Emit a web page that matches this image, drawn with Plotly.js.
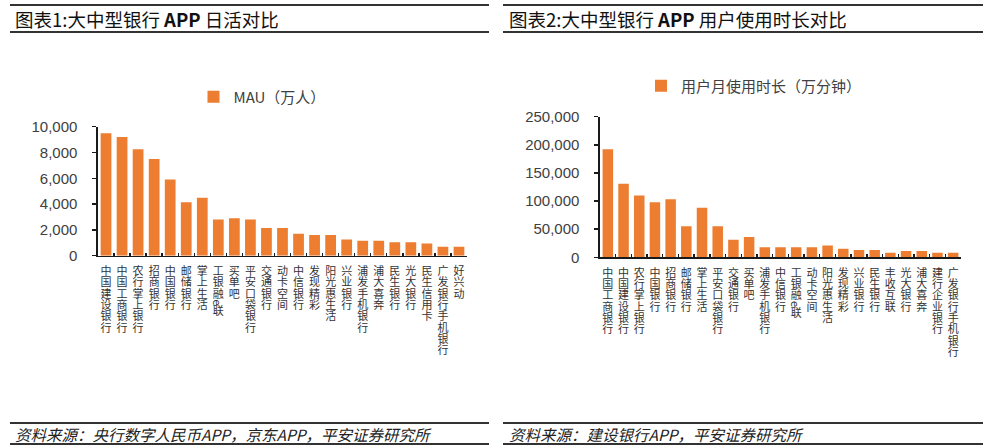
<!DOCTYPE html>
<html>
<head>
<meta charset="utf-8">
<script src="https://cdn.plot.ly/plotly-3.0.1.min.js"></script>
<style>
html,body{margin:0;padding:0;background:#fff;}
#chart{width:1000px;height:447px;}
</style>
</head>
<body>
<div id="chart"></div>
<script>
// ---------- data ----------
const mauCategories = ['中国建设银行','中国工商银行','农行掌上银行','招商银行','中国银行','邮储银行','掌上生活','工银融e联','买单吧','平安口袋银行','交通银行','动卡空间','中信银行','发现精彩','阳光惠生活','兴业银行','浦发手机银行','浦大喜奔','民生银行','光大银行','民生信用卡','广发银行手机银行','好兴动'];
const mauValues = [9500, 9200, 8250, 7500, 5900, 4150, 4500, 2800, 2900, 2800, 2150, 2150, 1700, 1600, 1600, 1250, 1150, 1150, 1050, 1050, 950, 700, 700];

const timeCategories = ['中国工商银行','中国建设银行','农行掌上银行','中国银行','招商银行','邮储银行','掌上生活','平安口袋银行','交通银行','买单吧','浦发手机银行','中信银行','工银融e联','动卡空间','阳光惠生活','发现精彩','兴业银行','民生银行','丰收互联','光大银行','浦大喜奔','建行企业银行','广发银行手机银行'];
const timeValues = [192000, 131000, 110000, 98000, 103000, 55000, 88000, 55000, 31000, 36000, 18000, 18000, 18000, 18000, 21000, 15000, 13000, 13000, 8000, 11000, 11000, 8000, 8000];

const mauSeriesName = 'MAU（万人）';
const timeSeriesName = '用户月使用时长（万分钟）';
const leftTitle = '图表1:大中型银行 <b>APP</b> 日活对比';
const rightTitle = '图表2:大中型银行 <b>APP</b> 用户使用时长对比';
const leftSource = '资料来源：央行数字人民币APP，京东APP，平安证券研究所';
const rightSource = '资料来源：建设银行APP，平安证券研究所';

// ---------- helpers ----------
const ORANGE = '#ED7D31';
const CJK = '"Noto Sans CJK SC", "Noto Sans", sans-serif';
const NUM = '"Liberation Sans", Arial, sans-serif';
const LABEL_FS = 11;

const traces = [
  {type:'bar', x: mauCategories, y: mauValues, name: mauSeriesName,
   marker:{color: ORANGE}, xaxis:'x', yaxis:'y', legend:'legend', hoverinfo:'x+y'},
  {type:'bar', x: timeCategories, y: timeValues, name: timeSeriesName,
   marker:{color: ORANGE}, xaxis:'x2', yaxis:'y2', legend:'legend2', hoverinfo:'x+y'}
];

const yBase = {
  showgrid:false, zeroline:false, showline:true, linecolor:'#1a1a1a', linewidth:1.6,
  ticks:'outside', ticklen:4, tickwidth:1.4, tickcolor:'#1a1a1a',
  tickfont:{family:NUM, size:15, color:'#404040'}, tickformat:',', ticklabelstandoff:12,
  fixedrange:true
};
const xBase = {
  type:'category', showgrid:false, zeroline:false, showline:true, linecolor:'#1a1a1a', linewidth:1.6,
  ticks:'inside', ticklen:3, tickwidth:1.4, tickcolor:'#1a1a1a', tickson:'boundaries',
  tickangle:0, tickfont:{family:CJK, size:LABEL_FS, color:'#333'}, tickmode:'array',
  ticklabelstandoff:4, fixedrange:true
};

const py = px => 1 - px/447;

const lineStyle = {color:'#333', width:2};
const shapes = [];
[[0.010,0.489],[0.503,0.983]].forEach(([a,b]) => {
  [5, 32, 423, 444].forEach(y => shapes.push({type:'line', xref:'paper', yref:'paper',
    x0:a, x1:b, y0:py(y), y1:py(y), line:lineStyle}));
});

const layout = {
  width:1000, height:447, margin:{l:0,r:0,t:0,b:0},
  paper_bgcolor:'#fff', plot_bgcolor:'#fff', showlegend:true,
  bargap:0.33,
  xaxis: Object.assign({}, xBase, {domain:[0.098,0.467], anchor:'y',
    tickvals: mauCategories, ticktext: mauCategories}),
  yaxis: Object.assign({}, yBase, {domain:[py(255.7), py(126.7)], anchor:'x', range:[0,10000], dtick:2000}),
  xaxis2: Object.assign({}, xBase, {domain:[0.600,0.961], anchor:'y2',
    tickvals: timeCategories, ticktext: timeCategories}),
  yaxis2: Object.assign({}, yBase, {domain:[py(257.3), py(116.7)], anchor:'x2', range:[0,250000], dtick:50000}),
  legend: {x:0.262, xanchor:'center', y:py(97), yanchor:'middle', orientation:'h',
    font:{family:CJK, size:15, color:'#404040'}, itemwidth:30, bgcolor:'rgba(0,0,0,0)'},
  legend2: {x:0.754, xanchor:'center', y:py(86), yanchor:'middle', orientation:'h',
    font:{family:CJK, size:15, color:'#404040'}, itemwidth:30, bgcolor:'rgba(0,0,0,0)'},
  shapes: shapes,
  annotations: [
    {xref:'paper', yref:'paper', x:0.013, y:py(19), xanchor:'left', yanchor:'middle', showarrow:false,
     text: leftTitle, font:{family:CJK, size:18.5, color:'#111'}},
    {xref:'paper', yref:'paper', x:0.507, y:py(19), xanchor:'left', yanchor:'middle', showarrow:false,
     text: rightTitle, font:{family:CJK, size:18.5, color:'#111'}},
    {xref:'paper', yref:'paper', x:0.013, y:py(434), xanchor:'left', yanchor:'middle', showarrow:false,
     text: '<i>'+leftSource+'</i>', font:{family:CJK, size:15.5, color:'#222'}},
    {xref:'paper', yref:'paper', x:0.507, y:py(434), xanchor:'left', yanchor:'middle', showarrow:false,
     text: '<i>'+rightSource+'</i>', font:{family:CJK, size:15.5, color:'#222'}}
  ]
};

// Category labels are written top-to-bottom (vertical CJK writing), as in the reference.
function verticalLabels(){
  document.querySelectorAll('.xtick text, .x2tick text').forEach(t => {
    if (t.dataset.vert) return;
    const label = t.textContent;
    const bb = t.getBBox();
    const cx = bb.x + bb.width/2;
    const top = bb.y + 4;
    while (t.firstChild) t.removeChild(t.firstChild);
    t.textContent = label;
    t.setAttribute('writing-mode', 'vertical-rl');
    t.style.writingMode = 'vertical-rl';
    t.setAttribute('text-anchor', 'start');
    t.style.textAnchor = 'start';
    t.setAttribute('x', cx);
    t.setAttribute('y', top);
    t.removeAttribute('dy');
    t.style.letterSpacing = '0.3px';
    t.dataset.vert = '1';
  });
}

Plotly.newPlot('chart', traces, layout, {displayModeBar:false, staticPlot:true}).then(verticalLabels);
</script>
</body>
</html>
